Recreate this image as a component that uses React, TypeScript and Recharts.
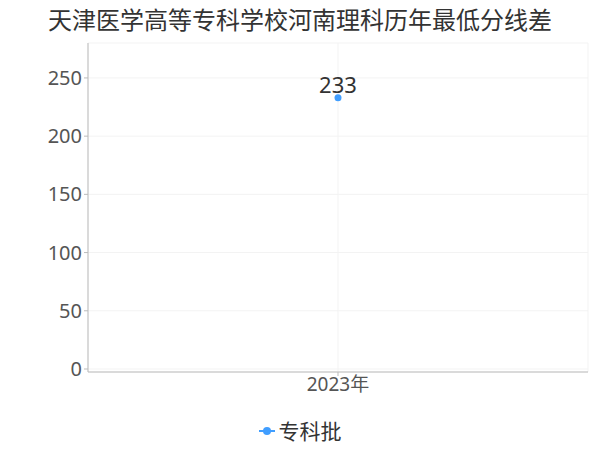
import React from "react";
import { LineChart, Line, XAxis, YAxis, CartesianGrid, LabelList } from "recharts";

const years = ["2023年"];
const scores = [233];
const yTicks = [0, 50, 100, 150, 200, 250];
const seriesName = "专科批";
const title = "天津医学高等专科学校河南理科历年最低分线差";

const data = years.map((y, i) => ({ year: y, value: scores[i] }));

const FONT = '"Noto Sans", "Noto Sans CJK SC", sans-serif';
const COLOR = "#409EFF";

export default function App() {
  return (
    <div style={{ position: "absolute", left: 0, top: 0, width: 600, height: 450, background: "#fff", fontFamily: FONT }}>
      <div style={{ position: "absolute", top: 3, width: 600, textAlign: "center", fontSize: 24, lineHeight: "34px", color: "#333" }}>
        {title}
      </div>
      <LineChart width={600} height={450} data={data} margin={{ top: 43, right: 12, left: 0, bottom: 48 }}>
        <CartesianGrid stroke="#f3f3f3" strokeWidth={1} />
        <XAxis
          dataKey="year"
          axisLine={{ stroke: "#bbb" }}
          tickLine={{ stroke: "#bbb" }}
          tickSize={4}
          tick={{ fontSize: 19, fill: "#555", fontFamily: FONT }}
          height={30}
        />
        <XAxis xAxisId="top" dataKey="year" orientation="top" height={0} tick={false} tickLine={false} axisLine={{ stroke: "#f3f3f3" }} />
        <YAxis
          domain={[0, 280]}
          ticks={yTicks}
          width={88}
          padding={{ bottom: 3 }}
          axisLine={{ stroke: "#bbb" }}
          tickLine={{ stroke: "#bbb" }}
          tickSize={4}
          tick={{ fontSize: 20, fill: "#555", fontFamily: FONT }}
          interval={0}
        />
        <YAxis yAxisId="right" orientation="right" width={0} tick={false} tickLine={false} axisLine={{ stroke: "#f3f3f3" }} />
        <Line
          type="linear"
          dataKey="value"
          name={seriesName}
          stroke={COLOR}
          strokeWidth={2}
          dot={{ r: 3.5, fill: COLOR, stroke: COLOR, strokeWidth: 0 }}
          isAnimationActive={false}
        >
          <LabelList dataKey="value" position="top" offset={5} style={{ fontSize: 22, fill: "#333", fontFamily: FONT }} />
        </Line>
      </LineChart>
      <div style={{ position: "absolute", top: 417, width: 600, display: "flex", justifyContent: "center", alignItems: "center" }}>
        <svg width={17} height={14} style={{ marginRight: 3 }}>
          <line x1={0} y1={7} x2={16} y2={7} stroke={COLOR} strokeWidth={2} />
          <circle cx={8} cy={7} r={4} fill={COLOR} />
        </svg>
        <span style={{ fontSize: 21, lineHeight: "28px", color: "#333" }}>{seriesName}</span>
      </div>
    </div>
  );
}
